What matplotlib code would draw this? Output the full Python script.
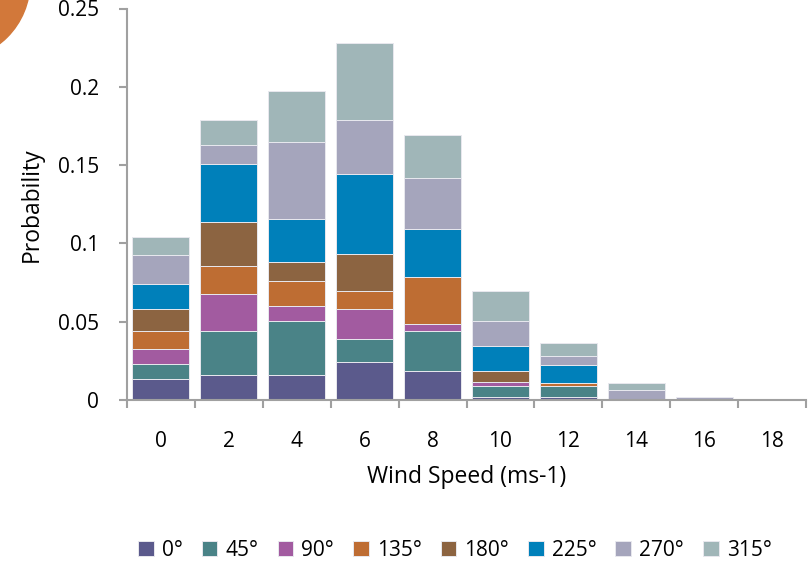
import matplotlib
matplotlib.use('Agg')
import matplotlib.pyplot as plt
from matplotlib.patches import Ellipse
import numpy as np

# wind speed bins and direction sectors
speeds = ['0', '2', '4', '6', '8', '10', '12', '14', '16', '18']
directions = ['0°', '45°', '90°', '135°', '180°', '225°', '270°', '315°']
colors = ['#5B5A8C', '#4A8387', '#A25BA0', '#BE6D33', '#8C6441', '#0080BA', '#A5A5BC', '#A0B6B8']

# probability per direction for each speed bin
p_0 = [0.0132, 0.0158, 0.0158, 0.0245, 0.0183, 0.0022, 0.0021, 0.0, 0.0, 0.0]
p_45 = [0.0096, 0.0281, 0.0348, 0.0143, 0.0256, 0.0067, 0.0066, 0.0, 0.0, 0.0]
p_90 = [0.0096, 0.0236, 0.0094, 0.0191, 0.0044, 0.0023, 0.0, 0.0, 0.0, 0.0]
p_135 = [0.0117, 0.0181, 0.0162, 0.0115, 0.0301, 0.0, 0.0022, 0.0, 0.0, 0.0]
p_180 = [0.0138, 0.0279, 0.0117, 0.0236, 0.0, 0.0071, 0.0, 0.0, 0.0, 0.0]
p_225 = [0.0160, 0.0374, 0.0279, 0.0511, 0.0306, 0.0162, 0.0116, 0.0, 0.0, 0.0]
p_270 = [0.0189, 0.0117, 0.0490, 0.0345, 0.0326, 0.0159, 0.0054, 0.0064, 0.0021, 0.0]
p_315 = [0.0113, 0.0162, 0.0325, 0.0492, 0.0276, 0.0191, 0.0087, 0.0047, 0.0, 0.0]
series = [p_0, p_45, p_90, p_135, p_180, p_225, p_270, p_315]

yticks = [0, 0.05, 0.1, 0.15, 0.2, 0.25]
ytick_labels = ['0', '0.05', '0.1', '0.15', '0.2', '0.25']

plt.rcParams['font.family'] = ['Open Sans', 'DejaVu Sans']

fig = plt.figure(figsize=(8.11, 5.73), dpi=100)
ax = fig.add_axes([127 / 811, 1 - 400 / 573, 679 / 811, 391.5 / 573])

x = np.arange(len(speeds))
bottom = np.zeros(len(speeds))
for vals, col, lab in zip(series, colors, directions):
    vals = np.array(vals)
    ax.bar(x, vals, width=0.84, bottom=bottom, color=col, label=lab,
           edgecolor='#e8e8ee', linewidth=0.7)
    bottom += vals

ax.set_xlim(-0.5, len(speeds) - 0.5)
ax.set_ylim(0, 0.25)

# tick marks on bin borders, labels in the middle
ax.set_xticks(np.arange(-0.5, len(speeds)), minor=False)
ax.set_xticklabels([])
ax.set_xticks(x, minor=True)
ax.set_xticklabels(speeds, minor=True)
ax.tick_params(axis='x', which='major', direction='out', length=6, width=1.5, color='#A0A0A0')
ax.tick_params(axis='x', which='minor', length=0, pad=22, labelsize=15)

ax.set_yticks(yticks)
ax.set_yticklabels(ytick_labels)
ax.tick_params(axis='y', direction='out', length=6, width=1.5, color='#A0A0A0', pad=14, labelsize=15)

for side in ['top', 'right']:
    ax.spines[side].set_visible(False)
for side in ['left', 'bottom']:
    ax.spines[side].set_color('#A0A0A0')
    ax.spines[side].set_linewidth(1.5)

ax.set_xlabel('Wind Speed (ms-1)', fontsize=16.5, labelpad=10)
ax.set_ylabel('Probability', fontsize=16.5, labelpad=10)

fig.legend(loc='center', bbox_to_anchor=(455 / 811, 1 - 550 / 573), ncol=8, frameon=False,
           fontsize=15, handlelength=0.75, handleheight=0.75, handletextpad=0.4, columnspacing=0.9)

# orange decoration in the corner
fig.patches.append(Ellipse((-48 / 811, 1 + 18 / 573), 2 * 78 / 811, 2 * 78 / 573,
                           transform=fig.transFigure, color='#D2783A', zorder=0))

fig.savefig('out.png', dpi=100)
